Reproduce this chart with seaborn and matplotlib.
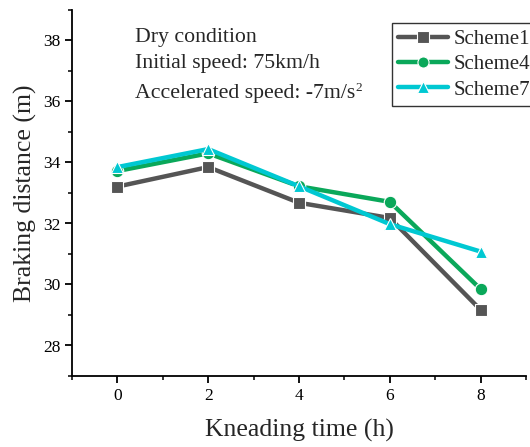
import matplotlib
matplotlib.use("Agg")
import matplotlib.pyplot as plt
import seaborn as sns
import pandas as pd
from matplotlib.ticker import MultipleLocator

# Data
kneading_time = [0, 2, 4, 6, 8]
scheme1 = [33.21, 33.85, 32.68, 32.18, 29.17]
scheme4 = [33.72, 34.30, 33.22, 32.71, 29.85]
scheme7 = [33.85, 34.44, 33.22, 31.98, 31.08]
series_names = ["Scheme1", "Scheme4", "Scheme7"]
colors = ["#555555", "#0aa85a", "#00c8d2"]
markers = ["s", "o", "^"]
annot_lines = ["Dry condition", "Initial speed: 75km/h", "Accelerated speed: -7m/s"]

df = pd.DataFrame({
    "x": kneading_time * 3,
    "y": scheme1 + scheme4 + scheme7,
    "series": sum([[n] * len(kneading_time) for n in series_names], []),
})

sns.set_theme(style="ticks")
plt.rcParams["font.family"] = ["Liberation Serif", "DejaVu Serif"]

fig = plt.figure(figsize=(5.30, 4.47), dpi=100)
ax = fig.add_axes([72/530, 71/447, (526-72)/530, (376-10)/447])

sns.lineplot(data=df, x="x", y="y", hue="series", style="series",
             palette=dict(zip(series_names, colors)),
             markers=dict(zip(series_names, markers)),
             dashes=False, linewidth=3.2, markersize=9,
             markeredgecolor="white", markeredgewidth=0.8, ax=ax, legend=False)

handles = [plt.Line2D([], [], color=c, marker=m, linewidth=3.2, markersize=8,
                      markeredgecolor="white", markeredgewidth=0.8, label=n)
           for n, c, m in zip(series_names, colors, markers)]
leg = fig.legend(handles=handles, loc="upper left",
                 bbox_to_anchor=(392/530, (447-23)/447), frameon=True,
                 fontsize=15, handlelength=2.4, handletextpad=0.25,
                 borderpad=0.3, labelspacing=0.28, fancybox=False,
                 borderaxespad=0)
leg.get_frame().set_edgecolor("black")
leg.get_frame().set_linewidth(1.0)

ax.set_xlim(-1, 9)
ax.set_ylim(27, 39)
ax.xaxis.set_major_locator(MultipleLocator(2))
ax.xaxis.set_minor_locator(MultipleLocator(1))
ax.yaxis.set_major_locator(MultipleLocator(2))
ax.yaxis.set_minor_locator(MultipleLocator(1))
ax.tick_params(which="major", direction="out", length=5, width=1.3, labelsize=12.5, colors="black")
ax.tick_params(which="minor", direction="out", length=3, width=1.3)
for s in ["top", "right"]:
    ax.spines[s].set_visible(False)
for s in ["left", "bottom"]:
    ax.spines[s].set_linewidth(1.3)
    ax.spines[s].set_color("black")

ax.set_xlabel("Kneading time (h)", fontsize=18.5, labelpad=11)
ax.set_ylabel("Braking distance (m)", fontsize=18.5, labelpad=4)

# annotation lines (figure pixel baselines)
baselines = [42, 68, 98]
for txt, yb in zip(annot_lines, baselines):
    t = fig.text(135/530, 1 - yb/447, txt, fontsize=15.7, va="baseline", ha="left")
fig.canvas.draw()
r = fig.canvas.get_renderer()
bb = t.get_window_extent(r)
fig.text(bb.x1/530, 1 - (yb - 7)/447, "2", fontsize=9.5, va="baseline", ha="left")

fig.savefig("out.png", dpi=100)
